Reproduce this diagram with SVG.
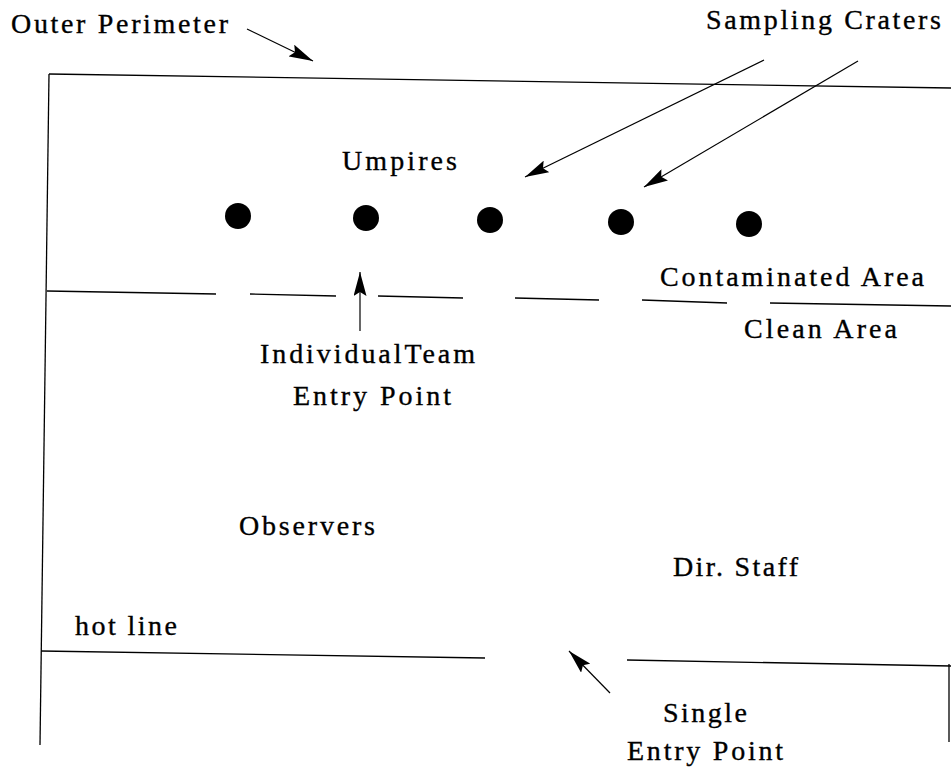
<svg xmlns="http://www.w3.org/2000/svg" width="951" height="767" viewBox="0 0 951 767">
<style>
.ln{stroke:#000;stroke-width:1.3;fill:none}
.ar{stroke:#000;stroke-width:1.2;fill:none;marker-end:url(#ah)}
.t{font-family:"Liberation Serif","Times New Roman",serif;font-size:28px;fill:#000;stroke:#000;stroke-width:0.35}
.dot{fill:#000}
</style>
<defs>
<marker id="ah" viewBox="0 0 24 13" refX="24" refY="6.5" markerWidth="24" markerHeight="13" markerUnits="userSpaceOnUse" orient="auto">
<path d="M0,0 L24,6.5 L0,13 L4,6.5 z" fill="#000"/>
</marker>
</defs>
<rect width="951" height="767" fill="#fff"/>
<g id="perimeter">
<line class="ln" x1="49" y1="74" x2="951" y2="88"/>
<line class="ln" x1="49" y1="74" x2="40" y2="745"/>
<line class="ln" x1="949" y1="664" x2="949" y2="742"/>
</g>
<g id="contamination-line">
<line class="ln" x1="47" y1="291" x2="216" y2="294"/>
<line class="ln" x1="250" y1="294" x2="336" y2="296"/>
<line class="ln" x1="378" y1="296" x2="463" y2="298"/>
<line class="ln" x1="515" y1="298" x2="599" y2="300"/>
<line class="ln" x1="642" y1="300" x2="727" y2="303"/>
<line class="ln" x1="770" y1="303" x2="951" y2="306"/>
</g>
<g id="hot-line">
<line class="ln" x1="41" y1="651" x2="485" y2="658"/>
<line class="ln" x1="627" y1="660" x2="951" y2="666"/>
</g>
<g id="craters">
<circle class="dot" cx="238" cy="216" r="13"/>
<circle class="dot" cx="366" cy="218" r="13"/>
<circle class="dot" cx="490" cy="220" r="13"/>
<circle class="dot" cx="621" cy="222" r="13"/>
<circle class="dot" cx="749" cy="224" r="13"/>
</g>
<g id="connectors">
<line class="ar" x1="247" y1="29" x2="313" y2="61"/>
<line class="ar" x1="764" y1="60" x2="525" y2="177"/>
<line class="ar" x1="858" y1="61" x2="644" y2="187"/>
<line class="ar" x1="360" y1="331" x2="360" y2="272"/>
<line class="ar" x1="610" y1="693" x2="569" y2="651"/>
</g>
<g id="labels">
<text class="t" x="11" y="33" textLength="217" lengthAdjust="spacing">Outer Perimeter</text>
<text class="t" x="706" y="29" textLength="235" lengthAdjust="spacing">Sampling Craters</text>
<text class="t" x="342" y="170" textLength="115" lengthAdjust="spacing">Umpires</text>
<text class="t" x="660" y="286" textLength="264" lengthAdjust="spacing">Contaminated Area</text>
<text class="t" x="744" y="338" textLength="153" lengthAdjust="spacing">Clean Area</text>
<text class="t" x="260" y="363" textLength="215" lengthAdjust="spacing">IndividualTeam</text>
<text class="t" x="293" y="405" textLength="158" lengthAdjust="spacing">Entry Point</text>
<text class="t" x="239" y="535" textLength="136" lengthAdjust="spacing">Observers</text>
<text class="t" x="673" y="576" textLength="125" lengthAdjust="spacing">Dir. Staff</text>
<text class="t" x="75" y="635" textLength="102" lengthAdjust="spacing">hot line</text>
<text class="t" x="663" y="722" textLength="84" lengthAdjust="spacing">Single</text>
<text class="t" x="627" y="760" textLength="156" lengthAdjust="spacing">Entry Point</text>
</g>
</svg>
